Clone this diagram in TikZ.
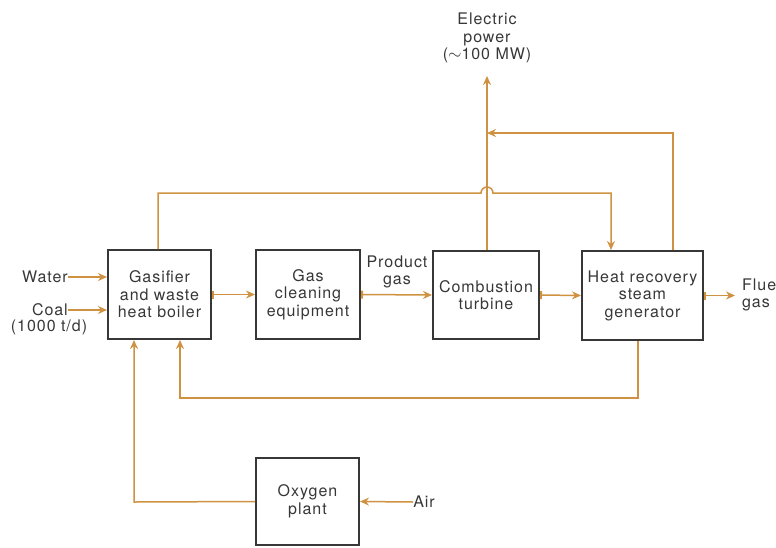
\documentclass[tikz,border=0pt]{standalone}
\usepackage{fontspec}
\setmainfont{TeX Gyre Heros}[LetterSpace=6]
\usetikzlibrary{arrows.meta}
\definecolor{flow}{RGB}{206,146,66}
\definecolor{boxc}{RGB}{55,55,55}
\definecolor{txt}{RGB}{55,55,55}
\begin{document}
\begin{tikzpicture}[x=1pt,y=-1pt,
  every node/.style={font=\fontsize{16}{17.5}\selectfont, text=txt, align=center, inner sep=0pt},
  unit/.style={draw=boxc, line width=2pt},
  flowline/.style={draw=flow, line width=1.5pt},
  arr/.style={flowline, -{Stealth[length=9pt,width=8pt]}},
  barr/.style={flowline, {Bar[width=8pt,line width=2pt]}-{Stealth[length=9pt,width=8pt]}}]
\useasboundingbox (0,0) rectangle (776,547);

\node[unit, minimum width=103pt, minimum height=89pt] (gas) at (159.5,294.5) {Gasifier\\and waste\\heat boiler};
\node[unit, minimum width=104pt, minimum height=89pt] (clean) at (308,294.5) {Gas\\cleaning\\equipment};
\node[unit, minimum width=106pt, minimum height=88pt] (comb) at (486,295) {Combustion\\turbine};
\node[unit, minimum width=121pt, minimum height=89pt] (hrsg) at (642.5,295.5) {Heat recovery\\steam\\generator};
\node[unit, minimum width=103pt, minimum height=87pt] (oxy) at (307.5,501.5) {Oxygen\\plant};

\node[anchor=east] (water) at (68,277) {Water};
\node[anchor=east] (coal) at (68,310) {Coal};
\node (rate) at (49,327) {(1000 t/d)};
\node (prod) at (397,272) {Product\\gas};
\node (elec) at (487,38) {Electric\\power\\($\sim$100 MW)};
\node[align=left, anchor=west] (flue) at (742,295) {Flue\\gas};
\node (air) at (424,502) {Air};

\coordinate (ep) at (487,76);

\draw[arr] (water.east) -- (gas.west |- water.east);
\draw[arr] (coal.east) -- (gas.west |- coal.east);
\draw[barr] (gas.east) -- (clean.west);
\draw[barr] (clean.east) -- (comb.west);
\draw[barr] (comb.east) -- (hrsg.west);
\draw[barr] (hrsg.east) -- ++(31,0);

\draw[arr] (comb.north -| ep) -- (ep);
\draw[arr] (hrsg.north -| 673,0) -- (673,133) -- (ep |- 0,133);
\draw[arr] (gas.north -| 158,0) -- (158,193) -- (481,193) arc (180:360:6) -- (611,193) -- (hrsg.north -| 611,0);
\draw[arr] (hrsg.south -| 638,0) -- (638,398) -- (180,398) -- (gas.south -| 180,0);
\draw[arr] (oxy.west) -- (134,502) -- (gas.south -| 134,0);
\draw[arr] (air.west) -- (oxy.east);
\end{tikzpicture}
\end{document}
